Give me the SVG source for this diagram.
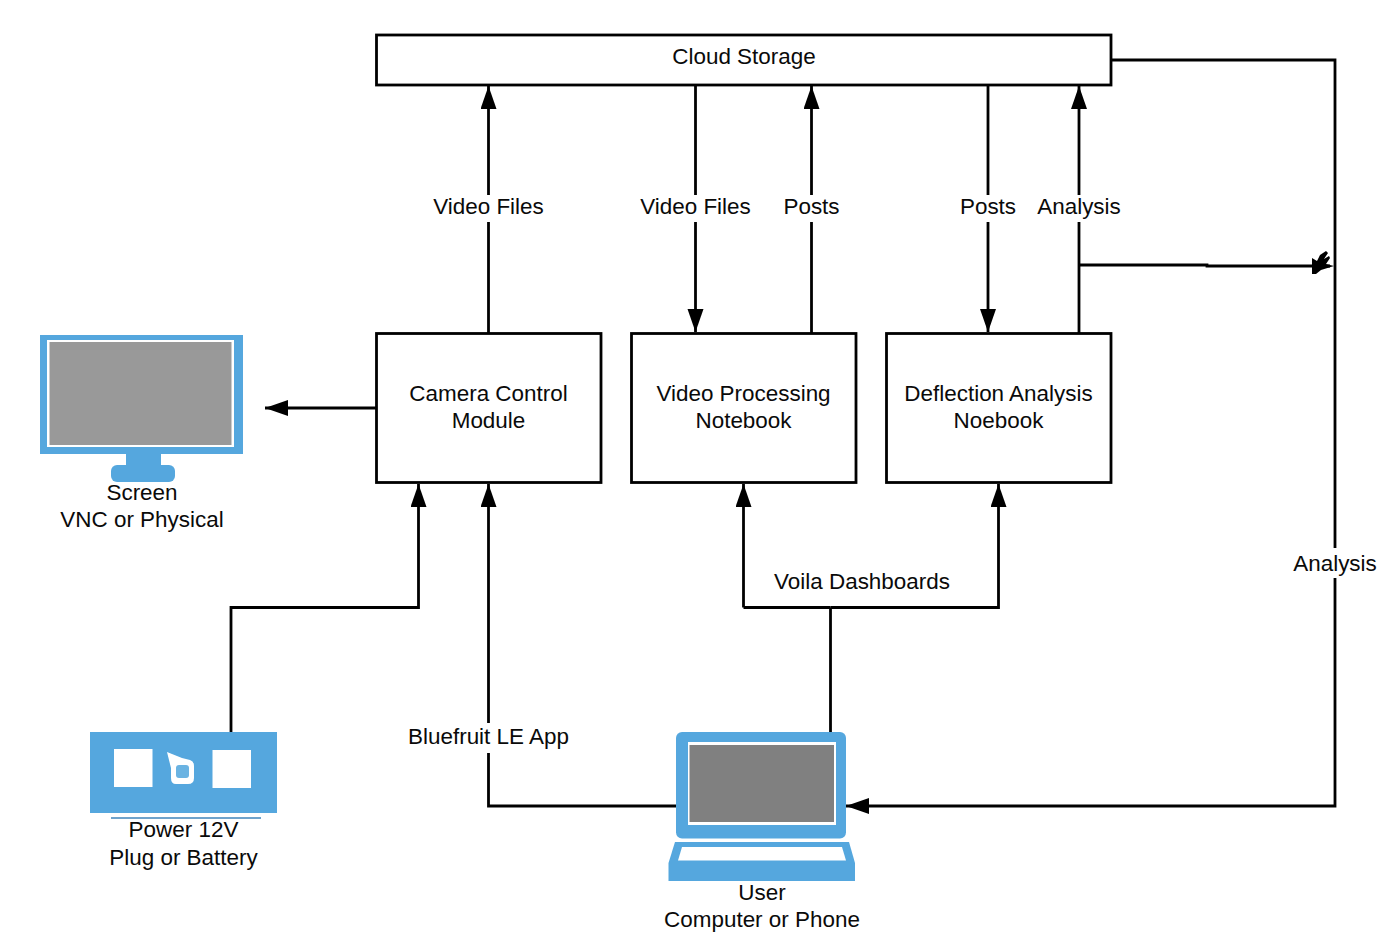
<svg xmlns="http://www.w3.org/2000/svg" width="1382" height="946" viewBox="0 0 1382 946">
<style>
text{font-family:"Liberation Sans",Arial,sans-serif;font-size:22.45px;fill:#0a0a0a;text-anchor:middle}
.box{fill:#fff;stroke:#000;stroke-width:2.800}
.c{fill:none;stroke:#000;stroke-width:2.800}
.a{marker-end:url(#arrow)}
.blue{fill:#55a7de}
.white{fill:#fff}
</style>
<defs>
<marker id="arrow" markerUnits="userSpaceOnUse" markerWidth="24" markerHeight="18" refX="23" refY="8" orient="auto"><path d="M0 0L23 8L0 16Z" fill="#000"/></marker>
</defs>
<rect width="1382" height="946" fill="#fff"/>
<g id="connectors">
<path class="c" d="M488.500 333V222"/><path class="c a" d="M488.500 195V86"/>
<path class="c" d="M695.500 85V195"/><path class="c a" d="M695.500 222V332"/>
<path class="c" d="M811.500 333V222"/><path class="c a" d="M811.500 195V86"/>
<path class="c" d="M988 85V195"/><path class="c a" d="M988 222V332"/>
<path class="c" d="M1079 333V222"/><path class="c a" d="M1079 195V86"/>
<path class="c a" d="M376 408H265"/>
<path class="c a" d="M231 732V607.500H418.500V484"/>
<path class="c" d="M676 806H488.500V753"/><path class="c a" d="M488.500 723V484"/>
<path class="c" d="M830.500 732V607.500"/>
<path class="c" d="M830.500 607.500H743.500"/>
<path class="c a" d="M743.500 607.500V484"/>
<path class="c a" d="M830.500 607.500H998.500V484"/>
<path class="c" d="M1111 60H1335V548"/><path class="c a" d="M1335 578V806H846"/>
<path class="c" d="M1079 265H1207V266H1330"/>
<path d="M1312 258L1317 261L1320 255L1326 251L1328 253L1324 259L1329 256L1330 258L1326 264L1334 266L1321 270L1316 274L1312 274Z" fill="#000"/>
</g>
<g id="cloud-storage"><rect class="box" x="376.500" y="35" width="734.500" height="50"/><text x="744" y="64">Cloud Storage</text></g>
<g id="camera-control"><rect class="box" x="376.500" y="333.500" width="224.500" height="149"/><text x="488.500" y="401">Camera Control</text><text x="488.500" y="427.500">Module</text></g>
<g id="video-processing"><rect class="box" x="631.500" y="333.500" width="224.500" height="149"/><text x="743.500" y="401">Video Processing</text><text x="743.500" y="427.500">Notebook</text></g>
<g id="deflection-analysis"><rect class="box" x="886.500" y="333.500" width="224.500" height="149"/><text x="998.500" y="401">Deflection Analysis</text><text x="998.500" y="427.500">Noebook</text></g>
<g id="screen">
<rect class="blue" x="40" y="335" width="203" height="119"/>
<rect class="white" x="47" y="340" width="187" height="107"/>
<rect x="49.500" y="342" width="182" height="103" fill="#999"/>
<rect class="blue" x="126" y="454" width="35" height="13"/>
<rect class="blue" x="111" y="465" width="64" height="17" rx="6"/>
<text x="142" y="500">Screen</text><text x="142" y="527">VNC or Physical</text>
</g>
<g id="power">
<rect class="blue" x="90" y="732" width="187" height="81"/>
<rect class="white" x="114" y="749" width="38.500" height="38"/>
<rect class="white" x="212.500" y="750" width="38.500" height="38"/>
<path class="white" d="M167 752L182 758L190 760Q194 761 194 766V778Q194 784 188 784H176Q171 784 171 778V768Z"/>
<rect x="176" y="765" width="13" height="13" rx="3" fill="#6ab3e2"/>
<rect x="111" y="817" width="150" height="2" fill="#6fa3cc"/>
<text x="183.500" y="837">Power 12V</text><text x="183.500" y="864.500">Plug or Battery</text>
</g>
<g id="user">
<rect class="blue" x="676" y="732" width="170" height="106.500" rx="6"/>
<rect class="white" x="688" y="742" width="148" height="83"/>
<rect x="689.500" y="745" width="144.500" height="77" fill="#808080"/>
<path class="blue" d="M675 842H849L855 863V881H668.500V863Z"/>
<path class="white" d="M682 847H842L846 860.500H678Z"/>
<text x="762" y="899.500">User</text><text x="762" y="926.500">Computer or Phone</text>
</g>
<g id="labels">
<text x="488.500" y="214">Video Files</text>
<text x="695.500" y="214">Video Files</text>
<text x="811.500" y="214">Posts</text>
<text x="988" y="214">Posts</text>
<text x="1079" y="214">Analysis</text>
<text x="488.500" y="744">Bluefruit LE App</text>
<text x="862" y="589">Voila Dashboards</text>
<text x="1335" y="571">Analysis</text>
</g>
</svg>
